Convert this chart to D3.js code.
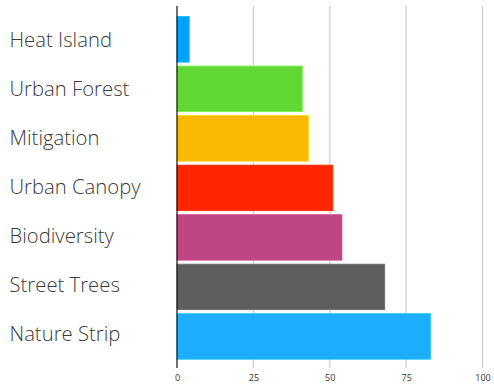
<!DOCTYPE html>
<html>
<head>
<meta charset="utf-8">
<script src="https://cdn.jsdelivr.net/npm/d3@7"></script>
<style>
  html, body { margin: 0; padding: 0; background: #fff; }
  svg { display: block; }
</style>
</head>
<body>
<svg id="chart" width="494" height="392"></svg>
<script>
// Topics and their scores
const categories = ["Heat Island", "Urban Forest", "Mitigation", "Urban Canopy", "Biodiversity", "Street Trees", "Nature Strip"];
const values = [4, 41, 43, 51, 54, 68, 83];
const colors = ["#00a2ff", "#61d836", "#f8ba00", "#ff2600", "#bf4683", "#5e5e5e", "#1eaeff"];
const tickValues = [0, 25, 50, 75, 100];

const svg = d3.select("#chart");

const x = d3.scaleLinear().domain([0, 100]).range([177, 482.5]);
const y = d3.scaleBand().domain(categories).range([14.6, 361.2])
  .paddingInner(0.08).paddingOuter(0.04);
// label rows sit on a slightly tighter pitch than the bars
const yLabel = d3.scalePoint().domain(categories).range([39.2, 333.5]);

// vertical gridlines
svg.append("g").selectAll("line")
  .data(tickValues.filter(d => d > 0))
  .join("line")
  .attr("x1", d => x(d)).attr("x2", d => x(d))
  .attr("y1", 6).attr("y2", 368)
  .attr("stroke", "#cfcfcf").attr("stroke-width", 1.3);

// bars
svg.append("g").selectAll("rect")
  .data(categories)
  .join("rect")
  .attr("x", x(0))
  .attr("y", d => y(d))
  .attr("width", (d, i) => x(values[i]) - x(0))
  .attr("height", y.bandwidth())
  .attr("fill", (d, i) => colors[i])
  .attr("stroke", (d, i) => d3.color(colors[i]).brighter(0.4))
  .attr("stroke-width", 0.8);

// category labels
svg.append("g").selectAll("text")
  .data(categories)
  .join("text")
  .attr("x", 9.5)
  .attr("y", d => yLabel(d))
  .attr("dy", "0.36em")
  .attr("font-family", "'Open Sans', sans-serif")
  .attr("font-weight", 300)
  .attr("font-size", 20.3)
  .attr("fill", "#3a3a3a")
  .text(d => d);

// x axis tick labels
const xAxis = d3.axisBottom(x).tickValues(tickValues).tickSize(0).tickPadding(0);
const gx = svg.append("g").attr("transform", "translate(0,375)").call(xAxis);
gx.select(".domain").remove();
gx.selectAll("text")
  .attr("font-family", "'Open Sans', sans-serif")
  .attr("font-size", 9)
  .attr("fill", "#333");

// category axis line
svg.append("line")
  .attr("x1", x(0)).attr("x2", x(0))
  .attr("y1", 6).attr("y2", 368)
  .attr("stroke", "#111").attr("stroke-width", 1.2);
</script>
</body>
</html>
